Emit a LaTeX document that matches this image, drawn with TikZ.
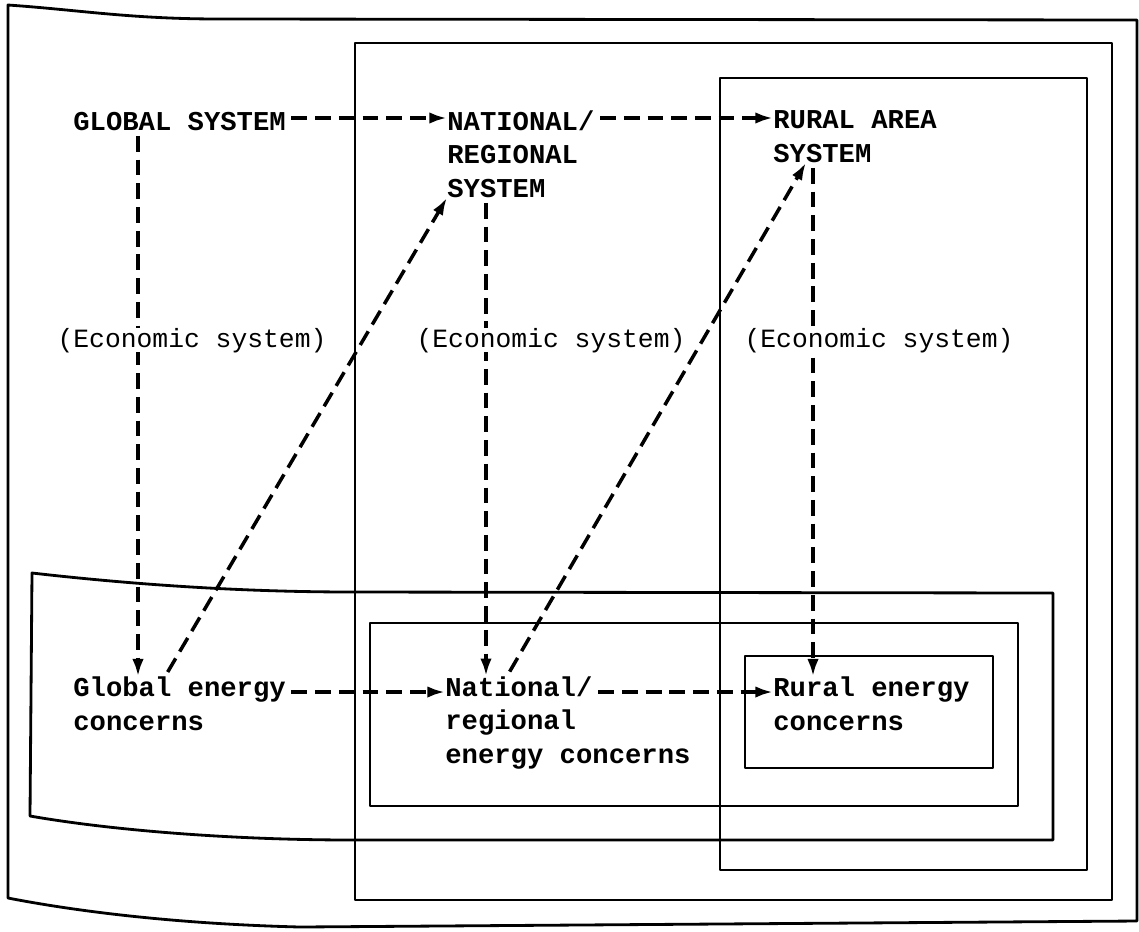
\documentclass[tikz,border=0pt]{standalone}
\usepackage{fontspec}
\usepackage{tikz}
\usetikzlibrary{arrows.meta,calc}
\newfontfamily\typew{Liberation Mono}

\begin{document}
\begin{tikzpicture}[x=0.02cm,y=-0.02cm]
\tikzset{
  sysnode/.style={inner sep=0pt, anchor=base west, align=left,
    font=\typew\bfseries\fontsize{15.5}{19}\selectfont},
  econode/.style={inner sep=0pt, anchor=base, fill=white,
    font=\typew\fontsize{15}{19}\selectfont},
  frame/.style={line width=1.6pt, line join=round},
  flow/.style={line width=2pt, dash pattern=on 9pt off 4.5pt,
    -{Latex[length=10pt,width=6.5pt]}, shorten <=3pt}
}
\useasboundingbox (0,0) rectangle (1139,931);
% frames
\draw[frame] (8,5) .. controls (80,10) and (130,19) .. (220,19) -- (1137,20)
  -- (1137,921) -- (300,927) .. controls (180,924) and (80,912) .. (8,898) -- cycle;
\draw[frame] (355,43) rectangle (1112,900);
\draw[frame] (720,78) rectangle (1087,870);
\draw[frame] (32,573) .. controls (120,583) and (230,592) .. (353,592) -- (1053,593)
  -- (1053,840) -- (353,840) .. controls (230,840) and (110,830) .. (30,816) -- cycle;
\draw[frame] (370,623) rectangle (1018,806);
\draw[frame] (745,656) rectangle (993,768);
% systems (anchored at last baseline)
\node[sysnode] (glob) at (73,130) {GLOBAL SYSTEM};
\node[sysnode] (nat) at (447,197) {NATIONAL/\\REGIONAL\\SYSTEM};
\node[sysnode] (rur) at (773,162) {RURAL AREA\\SYSTEM};
% energy concerns
\node[sysnode] (globE) at (73,730) {Global energy\\concerns};
\node[sysnode] (natE) at (445,763) {National/\\regional\\energy concerns};
\node[sysnode] (rurE) at (773,730) {Rural energy\\concerns};
% helper coordinates
\coordinate (h1) at ($(glob.base east)+(0,-12)$);
\coordinate (h2) at (0,692);
\coordinate (v1) at (138,0);
\coordinate (v2) at (486,0);
\coordinate (v3) at (813,0);
% flows
\draw[flow] (h1) -- (h1 -| nat.west);
\draw[flow] (h1 -| nat.east) -- (h1 -| rur.west);
\draw[flow] (globE.east |- h2) -- (natE.west |- h2);
\draw[flow] ($(natE.west |- h2)+(148,0)$) -- (rurE.west |- h2);
\draw[flow] (glob.south -| v1) -- (globE.north -| v1);
\draw[flow] (nat.south -| v2) -- (natE.north -| v2);
\draw[flow] (rur.south -| v3) -- (rurE.north -| v3);
\draw[flow] ($(globE.north west)+(92,0)$) -- (nat.south west);
\draw[flow] ($(natE.north west)+(62,0)$) -- ($(rur.south west)+(33,0)$);
% economic systems
\node[econode] (eco1) at (192,347) {(Economic system)};
\node[econode] (eco2) at (551,347) {(Economic system)};
\node[econode] (eco3) at (879,347) {(Economic system)};
\end{tikzpicture}
\end{document}
